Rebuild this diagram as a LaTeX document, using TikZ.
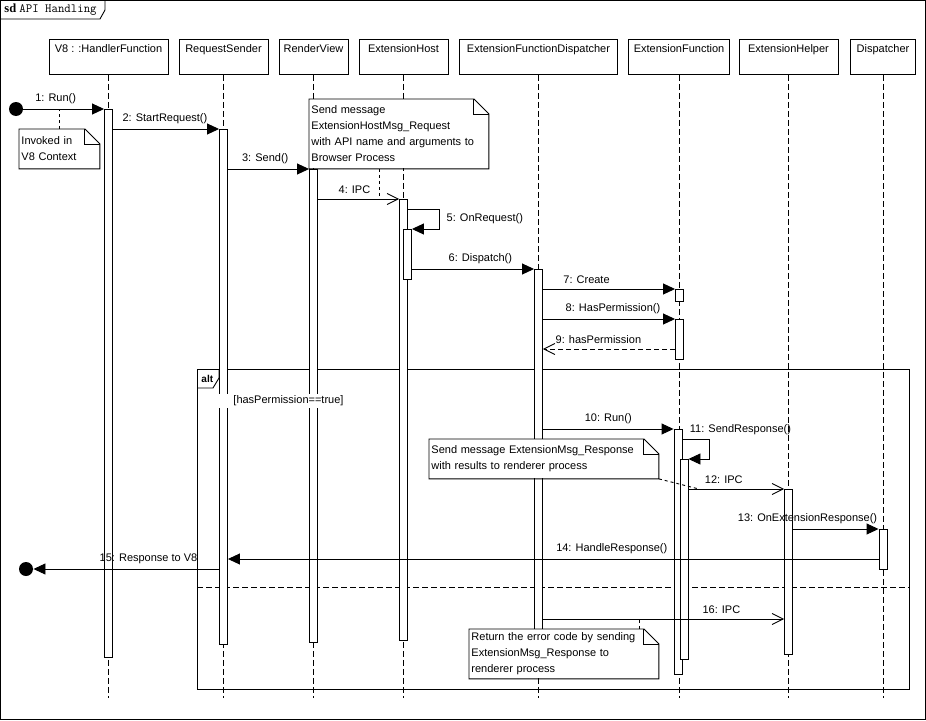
\documentclass[tikz,border=0pt]{standalone}
\usepackage{fontspec}
\setmainfont{Liberation Sans}
\newfontfamily\sdserif{Liberation Serif}
\usepackage{tikz}
\usetikzlibrary{positioning}
\usetikzlibrary{arrows.meta}

\tikzset{
  every node/.style={font=\fontsize{11}{16}\selectfont},
  head/.style={draw, fill=white, anchor=north, minimum height=35pt, inner xsep=0pt, inner ysep=3pt, text height=10pt, text depth=19pt},
  lifeln/.style={dash pattern=on 6pt off 3pt},
  actbar/.style={draw, fill=white, anchor=north, minimum width=8pt, inner sep=0pt},
  call/.style={-{Triangle[length=12pt,width=11pt]}},
  sig/.style={-{Straight Barb[length=11pt,width=11pt]}},
  ret/.style={sig, dash pattern=on 5pt off 3pt},
  lbl/.style={above=2.5pt, inner sep=2pt},
  note/.style={fill=white, anchor=north west, align=left, inner xsep=2pt, inner ysep=0pt},
  notelink/.style={dash pattern=on 3pt off 3pt},
  endpt/.style={circle, fill, inner sep=0pt, minimum size=14pt},
}

% note box with folded corner
\newcommand{\notefold}[1]{%
  \draw (#1.north west) -- ([xshift=-15pt]#1.north east) -- ([yshift=-15pt]#1.north east) -- (#1.south east) -- (#1.south west) -- cycle;
  \draw ([xshift=-15pt]#1.north east) |- ([yshift=-15pt]#1.north east);
}

\begin{document}
\begin{tikzpicture}[x=1pt, y=-1pt, line width=0.9pt]
\useasboundingbox (0,0) rectangle (926,720);
% frame
\draw (0.5,0.5) rectangle (925.5,719.5);
\draw (0.5,19) -- (100,19) -- (105,10) -- (105,0.5);
\node[anchor=west, inner sep=0pt] (title) at (4,10) {\fontsize{12.5}{14}\selectfont\sdserif\bfseries sd \ttfamily\mdseries API Handling};

% lifelines
\foreach \nm/\x/\w/\t in {hf/108.5/119/{V8 : :HandlerFunction}, rs/223.5/89/RequestSender, rv/313.5/69/RenderView, eh/403.5/89/ExtensionHost, efd/538.5/158/ExtensionFunctionDispatcher, ef/679/101/ExtensionFunction, hl/788.5/99/ExtensionHelper, dp/883/65/Dispatcher} {
\node[head, minimum width=\w pt] (\nm) at (\x,39) {\t};
\draw[lifeln] (\nm.south) -- (\x,698);
}

% alt fragment
\draw (197,369) rectangle (909,689);
\draw (197,388) -- (213,388) -- (219,378) -- (219,369);
\node[anchor=west, inner sep=0pt, font=\bfseries\fontsize{10}{12}\selectfont] (alt) at (201,379) {alt};
\draw[dash pattern=on 6pt off 3pt] (197,587) -- (909,587);

% activations
\foreach \nm/\x/\y/\h in {hfA/108.5/109/548, rsA/223.5/129/515, rvA/313.5/169/473, ehA/403.5/199/441, ehB/407.5/229/50, efdA/538.5/269/395, efA/679.5/289/12, efB/679.5/319/40, efC/678/429/245, efD/684/459/200, hlA/788.5/489/165, dpA/883/529/40} {
\node[actbar, minimum height=\h pt] (\nm) at (\x,\y) {};
}

\node[fill=white, anchor=west, inner xsep=0pt, inner ysep=2pt] (guard) at (218,401) {\hspace{15pt}[hasPermission==true]\hspace{3pt}};

% messages
\node[endpt] (start) at (16,109) {};
\draw[call] (start) -- (hfA.west |- start) node[lbl, pos=.4] (m1) {1: Run()};
\draw[call] (hfA.east |- 0,129) -- (rsA.west |- 0,129) node[lbl, pos=.49] (m2) {2: StartRequest()};
\draw[call] (rsA.east |- 0,169) -- (rvA.west |- 0,169) node[lbl, pos=.46] (m3) {3: Send()};
\draw[sig] (rvA.east |- 0,199) -- (ehA.west |- 0,199) node[lbl, pos=.45] (m4) {4: IPC};
\draw[call] (ehA.east |- 0,209) -- ++(31,0) |- node[pos=.25, right=4pt] (m5) {5: OnRequest()} (ehB.east |- 0,229);
\draw[call] (ehB.east |- 0,269) -- (efdA.west |- 0,269) node[lbl, pos=.56] (m6) {6: Dispatch()};
\draw[call] (efdA.east |- 0,289) -- (efA.west |- 0,289) node[lbl, pos=.33] (m7) {7: Create};
\draw[call] (efdA.east |- 0,319) -- (efB.west |- 0,319) node[lbl, pos=.53] (m8) {8: HasPermission()};
\draw[ret] (efB.west |- 0,349) -- (efdA.east |- 0,349) node[lbl, pos=.58] (m9) {9: hasPermission};
\draw[call] (efdA.east |- 0,429) -- (efC.west |- 0,429) node[lbl, pos=.5] (m10) {10: Run()};
\draw[call] (efC.east |- 0,439) node[above right, inner sep=2pt, xshift=5pt, yshift=2pt] (m11) {11: SendResponse()} -- ++(27,0) |- (efD.east |- 0,459);
\draw[sig] (efD.east |- 0,489) -- (hlA.west |- 0,489) node[lbl, pos=.37] (m12) {12: IPC};
\draw[call] (hlA.east |- 0,529) -- (dpA.west |- 0,529) node[lbl, pos=.17] (m13) {13: OnExtensionResponse()};
\draw[call] (dpA.west |- 0,559) -- (rsA.east |- 0,559) node[lbl, pos=.41] (m14) {14: HandleResponse()};
\node[endpt] (stop) at (26,569) {};
\draw[call] (rsA.west |- stop) -- (stop) node[lbl, pos=.38] (m15) {15: Response to V8};
\draw[sig] (efdA.east |- 0,619) -- (hlA.west |- 0,619) node[lbl, pos=.74] (m16) {16: IPC};

% notes
\node[note, text width=76pt, minimum height=39pt] (nInvoked) at (19,129) {Invoked in\\V8 Context};
\notefold{nInvoked}
\coordinate (c1) at (59,109);
\draw[notelink] (nInvoked.north -| c1) -- (c1);

\node[note, text width=175pt, minimum height=69pt] (nRequest) at (309,99) {Send message\\ExtensionHostMsg\_Request\\with API name and arguments to\\Browser Process};
\notefold{nRequest}
\coordinate (c2) at (379,199);
\draw[notelink] (nRequest.south -| c2) -- (c2);

\node[note, text width=225pt, minimum height=39pt] (nResponse) at (429,439) {Send message ExtensionMsg\_Response\\with results to renderer process};
\notefold{nResponse}
\coordinate (c3) at (699,489);
\draw[notelink] (nResponse.south east) -- (c3);

\node[note, text width=185pt, minimum height=49pt] (nError) at (469,629) {Return the error code by sending\\ExtensionMsg\_Response to\\renderer process};
\notefold{nError}
\coordinate (c4) at (639,619);
\draw[notelink] (nError.north -| c4) -- (c4);
\end{tikzpicture}
\end{document}
